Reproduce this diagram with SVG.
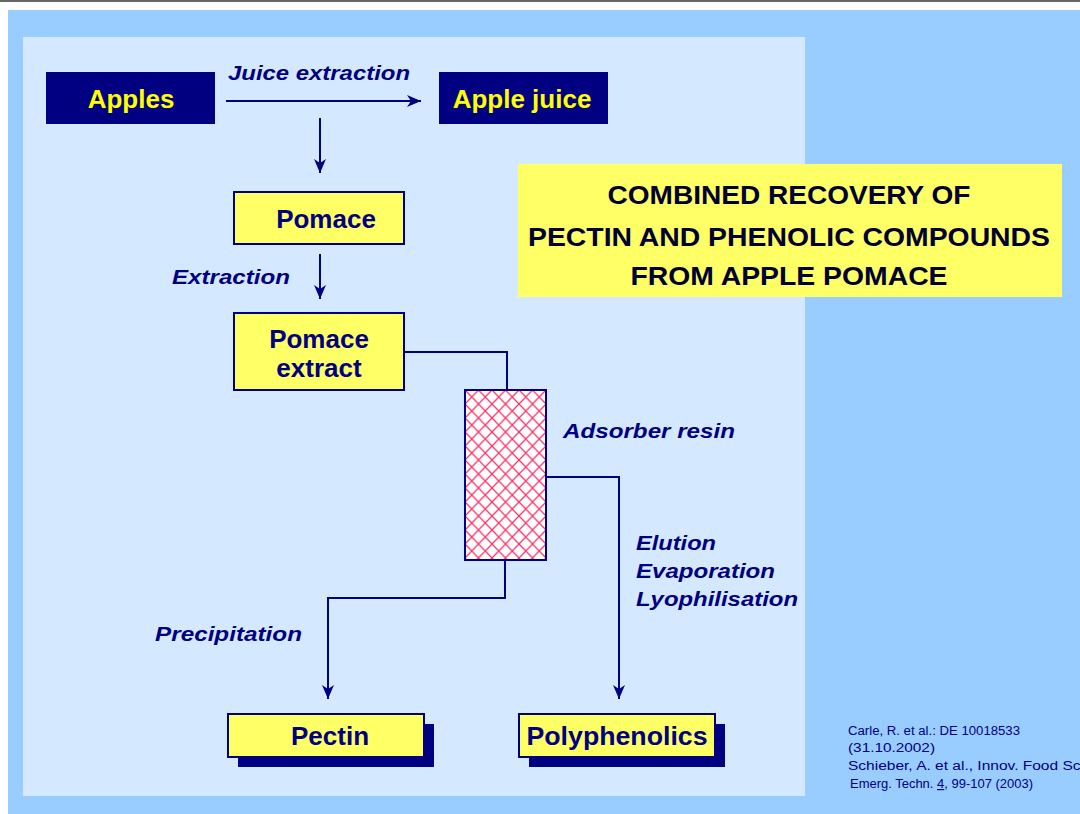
<svg xmlns="http://www.w3.org/2000/svg" width="1080" height="814" viewBox="0 0 1080 814">
<style>
.nbox{fill:#000080}
.ybox{fill:#FFFF66;stroke:#000080;stroke-width:2}
.shadow{fill:#000080}
.ytxt{font-family:"Liberation Sans",Arial,sans-serif;font-weight:bold;font-size:26px;fill:#FFFF00;text-anchor:middle}
.btxt{font-family:"Liberation Sans",Arial,sans-serif;font-weight:bold;font-size:26px;fill:#000080;text-anchor:middle}
.lbl{font-family:"Liberation Sans",Arial,sans-serif;font-weight:bold;font-style:italic;font-size:20px;fill:#000080}
.title{font-family:"Liberation Sans",Arial,sans-serif;font-weight:bold;font-size:25px;fill:#000033;text-anchor:middle}
.cite{font-family:"Liberation Sans",Arial,sans-serif;font-size:12px;fill:#000080}
.conn{fill:none;stroke:#000080;stroke-width:2}
</style>
<defs>
<marker id="arr" markerUnits="userSpaceOnUse" markerWidth="14" markerHeight="12" refX="14" refY="6" orient="auto">
<path d="M0,0 L14,6 L0,12 L4,6 Z" fill="#000080"/>
</marker>
<pattern id="hatch" patternUnits="userSpaceOnUse" width="13.5" height="14" x="465" y="390">
<rect width="13.5" height="14" fill="#FFFFFF"/>
<path d="M0,0 L13.5,14 M13.5,0 L0,14" stroke="#FF3366" stroke-width="1.3"/>
</pattern>
</defs>
<rect x="0" y="0" width="1080" height="814" fill="#FFFFFF"/>
<rect x="0" y="0" width="1080" height="2" fill="#666666"/>
<rect x="8" y="10" width="1072" height="804" fill="#99CCFF"/>
<rect x="23" y="37" width="782" height="759" fill="#D4E8FF"/>

<g id="connectors">
<line class="conn" x1="226" y1="101" x2="421" y2="101" marker-end="url(#arr)"/>
<line class="conn" x1="320" y1="118" x2="320" y2="173" marker-end="url(#arr)"/>
<line class="conn" x1="320" y1="254" x2="320" y2="299" marker-end="url(#arr)"/>
<path class="conn" d="M404,352 H507 V390"/>
<path class="conn" d="M505,560 V598 H328 V699" marker-end="url(#arr)"/>
<path class="conn" d="M546,477 H619 V699" marker-end="url(#arr)"/>
</g>

<g id="labels">
<text class="lbl" x="228" y="80" textLength="182" lengthAdjust="spacingAndGlyphs">Juice extraction</text>
<text class="lbl" x="172" y="284" textLength="118" lengthAdjust="spacingAndGlyphs">Extraction</text>
<text class="lbl" x="563" y="438" textLength="172" lengthAdjust="spacingAndGlyphs">Adsorber resin</text>
<text class="lbl" x="636" y="550" textLength="80" lengthAdjust="spacingAndGlyphs">Elution</text>
<text class="lbl" x="636" y="578" textLength="139" lengthAdjust="spacingAndGlyphs">Evaporation</text>
<text class="lbl" x="636" y="606" textLength="162" lengthAdjust="spacingAndGlyphs">Lyophilisation</text>
<text class="lbl" x="155" y="641" textLength="147" lengthAdjust="spacingAndGlyphs">Precipitation</text>
</g>

<g id="apples">
<rect class="nbox" x="46" y="72" width="169" height="52"/>
<text class="ytxt" x="131" y="108">Apples</text>
</g>
<g id="apple-juice">
<rect class="nbox" x="439" y="72" width="169" height="52"/>
<text class="ytxt" x="522" y="108">Apple juice</text>
</g>
<g id="pomace">
<rect class="ybox" x="234" y="192" width="170" height="52"/>
<text class="btxt" x="326" y="228">Pomace</text>
</g>
<g id="pomace-extract">
<rect class="ybox" x="234" y="313" width="170" height="77"/>
<text class="btxt" x="319" y="348">Pomace</text>
<text class="btxt" x="319" y="377">extract</text>
</g>
<g id="resin">
<rect x="465" y="390" width="81" height="170" fill="url(#hatch)" stroke="#000080" stroke-width="2"/>
</g>
<g id="pectin">
<rect class="shadow" x="238" y="724" width="196" height="43"/>
<rect class="ybox" x="228" y="714" width="196" height="43"/>
<text class="btxt" x="330" y="745">Pectin</text>
</g>
<g id="polyphenolics">
<rect class="shadow" x="529" y="724" width="196" height="43"/>
<rect class="ybox" x="519" y="714" width="196" height="43"/>
<text class="btxt" x="617" y="745" textLength="181" lengthAdjust="spacingAndGlyphs">Polyphenolics</text>
</g>
<g id="title">
<rect x="518" y="164" width="544" height="133" fill="#FFFF66"/>
<text class="title" x="789" y="204" textLength="363" lengthAdjust="spacingAndGlyphs">COMBINED RECOVERY OF</text>
<text class="title" x="789" y="246" textLength="522" lengthAdjust="spacingAndGlyphs">PECTIN AND PHENOLIC COMPOUNDS</text>
<text class="title" x="789" y="285" textLength="317" lengthAdjust="spacingAndGlyphs">FROM APPLE POMACE</text>
</g>
<g id="citation">
<text class="cite" x="848" y="735" textLength="172" lengthAdjust="spacingAndGlyphs">Carle, R. et al.: DE 10018533</text>
<text class="cite" x="848" y="752" textLength="87" lengthAdjust="spacingAndGlyphs">(31.10.2002)</text>
<text class="cite" x="848" y="770" textLength="236" lengthAdjust="spacingAndGlyphs">Schieber, A. et al., Innov. Food Sci</text>
<text class="cite" x="850" y="788" textLength="183" lengthAdjust="spacingAndGlyphs">Emerg. Techn. <tspan text-decoration="underline">4</tspan>, 99-107 (2003)</text>
</g>
</svg>
